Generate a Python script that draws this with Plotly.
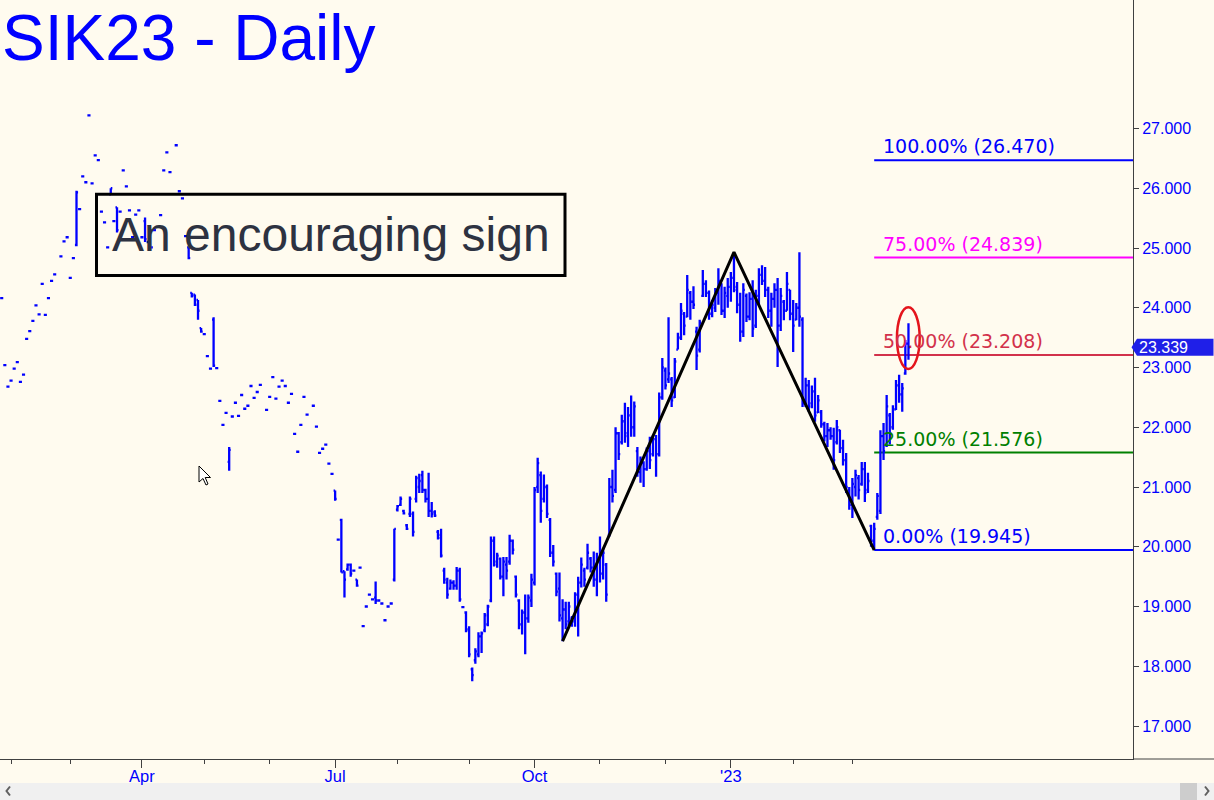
import plotly.graph_objects as go
import pandas as pd

# ------------------------------------------------------------------ data
first_session = "2022-01-27"
exchange_holidays = ["2022-02-21", "2022-04-15", "2022-05-30", "2022-06-20",
                     "2022-07-04", "2022-09-05", "2022-11-24", "2022-12-26",
                     "2023-01-02", "2023-01-16", "2023-02-20"]

bar_open = [
    24.16, 23.04, 22.68, 22.78, 22.98, 23.09, 22.76, 22.88, 23.48, 23.61,
    23.78, 24.04, 23.89, 24.40, 23.88, 24.16, 24.45, 24.56, None, 24.86,
    25.11, 25.18, 24.50, 24.83, 25.05, 25.65, 26.20, 26.10, 27.22, 26.08,
    26.55, 26.47, 25.61, 25.43, 25.01, 25.90, 25.45, 25.68, 25.61, 26.30,
    26.03, 25.63, 25.18, 25.56, 25.63, 25.18, 25.45, 25.10, 25.01, 25.30,
    None, 25.55, 26.30, 26.60, 26.27, None, 26.72, 25.95, 25.83, 25.20,
    25.01, 24.25, 24.22, 24.13, 23.66, 23.56, 23.19, 22.98, 23.80, 22.99,
    22.44, 22.04, 22.24, 21.42, 22.18, 22.41, 22.19, 22.54, 22.31, 22.36,
    22.69, 22.49, 22.59, 22.71, None, 22.29, 22.51, 22.84, 22.48, 22.68,
    22.78, 22.69, 22.41, 22.56, 21.89, 21.59, 22.04, 22.51, 22.21, None,
    22.36, 22.01, 21.57, 21.64, 21.71, 21.39, 21.22, 20.94, 20.12, 20.45,
    19.59, 19.62, 19.70, 19.60, 19.45, 19.65, 18.67, 19.00, 19.20, 19.12,
    19.15, 19.10, 19.05, 18.77, 19.00, 19.05, 19.45, 20.62, 20.70, 20.60,
    20.36, 20.55, 20.55, 20.80, 21.00, 21.20, 20.95, 20.80, 20.60, 20.58,
    20.25, 20.20, 19.60, 19.40, 19.30, 19.40, 19.35, 19.60, 18.99, 18.90,
    18.60, 17.95, 18.10, 18.20, 18.50, 18.60, 18.70, 19.10, 20.10, 19.70,
    19.80, 19.50, 19.70, 19.75, 20.10, 19.50, 19.10, 18.70, 18.90, 18.80,
    19.10, 19.40, 21.00, 21.20, 20.80, 21.00, 20.45, 19.90, 19.55, 19.30,
    18.80, 18.95, 18.75, 18.80, 18.75, 19.20, 19.40, 19.60, 19.65, 19.80,
    19.65, 19.45, 19.80, 19.55, 19.70, 20.20, 21.00, 20.95, 21.90, 21.75,
    22.10, 21.90, 22.20, 22.00, 21.60, 21.25, 21.40, 21.30, 21.60, 21.55,
    21.80, 21.55, 22.50, 22.95, 22.80, 22.80, 22.50, 23.30, 23.50, 23.90,
    23.85, 24.25, 24.10, 23.60, 23.30, 24.20, 24.40, 24.25, 23.90, 24.00,
    24.25, 24.40, 23.95, 24.20, 24.35, 24.50, 24.30, 24.05, 23.60, 24.20,
    23.85, 24.15, 23.70, 24.20, 24.55, 24.45, 24.30, 23.95, 24.15, 24.30,
    23.70, 24.10, 23.95, 24.30, 23.90, 23.80, 24.00, 23.80, 22.40, 22.70,
    22.40, 22.60, 22.25, 22.25, 22.05, 21.85, 21.95, 21.85, 21.75, 21.95,
    21.65, 21.45, 20.95, 20.70, 21.00, 21.15, 21.05, 21.30, 20.95, 20.35,
    20.10, 20.50, 20.60, 21.85, 21.70, 22.20, 22.00, 22.30, 22.70, 22.55,
    22.90, 23.40,
]

bar_high = [
    24.16, 23.04, 22.68, 22.78, 22.98, 23.09, 22.76, 22.88, 23.48, 23.61,
    23.78, 24.04, 23.89, 24.40, 23.88, 24.16, 24.45, 24.56, None, 24.86,
    25.11, 25.18, 24.50, 24.83, 25.96, 25.65, 26.20, 26.10, 27.22, 26.08,
    26.55, 26.47, 25.61, 25.43, 25.01, 26.00, 25.45, 25.68, 25.61, 26.30,
    26.03, 25.63, 25.18, 25.56, 25.63, 25.18, 25.51, 25.10, 25.01, 25.30,
    None, 25.55, 26.30, 26.60, 26.27, None, 26.72, 25.95, 25.83, 25.20,
    25.01, 24.25, 24.22, 24.13, 23.66, 23.56, 23.19, 22.98, 23.84, 22.99,
    22.44, 22.04, 22.24, 21.67, 22.18, 22.41, 22.19, 22.54, 22.31, 22.36,
    22.69, 22.49, 22.59, 22.71, None, 22.29, 22.51, 22.84, 22.48, 22.68,
    22.78, 22.69, 22.41, 22.56, 21.89, 21.59, 22.04, 22.51, 22.21, None,
    22.36, 22.01, 21.57, 21.64, 21.71, 21.39, 21.22, 20.94, 20.12, 20.47,
    19.59, 19.72, 19.72, 19.60, 19.45, 19.65, 18.67, 19.00, 19.20, 19.12,
    19.42, 19.10, 19.05, 18.77, 19.00, 19.05, 20.30, 20.70, 20.84, 20.62,
    20.38, 20.84, 20.59, 21.19, 21.22, 21.27, 20.97, 21.24, 20.75, 20.61,
    20.28, 20.30, 19.65, 19.48, 19.45, 19.44, 19.66, 19.65, 18.99, 18.92,
    18.67, 17.98, 18.30, 18.57, 18.58, 18.89, 19.03, 20.17, 20.17, 19.90,
    19.82, 19.83, 19.83, 20.20, 20.12, 19.52, 19.12, 18.95, 19.20, 19.20,
    19.55, 21.00, 21.49, 21.26, 21.21, 21.04, 20.48, 20.03, 19.57, 19.57,
    19.12, 19.08, 19.08, 18.84, 19.24, 19.50, 19.82, 19.65, 20.05, 19.83,
    19.92, 19.90, 20.17, 19.98, 19.73, 21.15, 21.29, 22.00, 21.92, 22.21,
    22.41, 22.34, 22.53, 22.43, 21.67, 21.51, 21.43, 21.66, 21.84, 21.87,
    21.87, 22.58, 23.16, 23.00, 23.84, 22.84, 23.16, 23.58, 24.08, 23.93,
    24.55, 24.28, 24.36, 23.68, 23.80, 24.63, 24.46, 24.29, 24.13, 24.33,
    24.66, 24.41, 24.35, 24.50, 24.60, 24.93, 24.43, 24.25, 24.41, 24.24,
    24.26, 24.46, 24.30, 24.66, 24.71, 24.68, 24.35, 24.25, 24.41, 24.50,
    24.33, 24.13, 24.60, 24.30, 24.13, 24.08, 24.93, 23.84, 22.83, 22.79,
    22.70, 22.83, 22.54, 22.29, 22.09, 22.07, 22.00, 21.99, 22.12, 21.96,
    21.79, 21.57, 21.00, 21.15, 21.29, 21.20, 21.42, 21.42, 21.24, 20.37,
    20.40, 20.90, 21.95, 22.07, 22.54, 22.24, 22.37, 22.79, 22.88, 22.74,
    23.46, 23.74,
]

bar_low = [
    24.16, 23.04, 22.68, 22.78, 22.98, 23.09, 22.76, 22.88, 23.48, 23.61,
    23.78, 24.04, 23.89, 24.40, 23.88, 24.16, 24.45, 24.56, None, 24.86,
    25.11, 25.18, 24.50, 24.83, 25.03, 25.65, 26.20, 26.10, 27.22, 26.08,
    26.55, 26.47, 25.61, 25.43, 25.01, 25.90, 25.45, 25.26, 25.61, 26.30,
    26.03, 25.63, 25.18, 25.56, 25.63, 25.18, 25.10, 25.10, 25.01, 25.30,
    None, 25.55, 26.30, 26.60, 26.27, None, 26.72, 25.95, 25.83, 25.20,
    24.81, 24.17, 24.03, 23.80, 23.58, 23.56, 23.19, 22.98, 23.01, 22.99,
    22.44, 22.04, 22.24, 21.27, 22.18, 22.41, 22.19, 22.54, 22.31, 22.36,
    22.69, 22.49, 22.59, 22.71, None, 22.29, 22.51, 22.84, 22.48, 22.68,
    22.78, 22.69, 22.41, 22.56, 21.89, 21.59, 22.04, 22.51, 22.21, None,
    22.36, 22.01, 21.57, 21.64, 21.71, 21.39, 21.22, 20.77, 20.12, 19.57,
    19.15, 19.60, 19.50, 19.60, 19.33, 19.65, 18.67, 19.00, 19.20, 19.12,
    19.04, 19.10, 19.05, 18.77, 19.00, 19.05, 19.42, 20.59, 20.68, 20.54,
    20.28, 20.50, 20.17, 20.74, 20.90, 20.90, 20.74, 20.50, 20.49, 20.50,
    20.12, 19.82, 19.38, 19.13, 19.28, 19.28, 19.28, 19.08, 18.99, 18.57,
    18.15, 17.75, 18.04, 18.15, 18.22, 18.57, 18.67, 19.07, 19.67, 19.65,
    19.45, 19.17, 19.45, 19.70, 19.87, 19.15, 18.62, 18.53, 18.20, 18.73,
    18.99, 19.35, 20.90, 20.40, 20.74, 20.48, 19.83, 19.67, 19.17, 18.75,
    18.42, 18.62, 18.67, 18.66, 18.66, 18.50, 19.32, 19.33, 19.62, 19.57,
    19.33, 19.17, 19.40, 19.45, 19.08, 20.17, 20.74, 20.90, 21.45, 21.71,
    21.74, 21.67, 21.84, 21.84, 21.17, 21.07, 21.00, 21.27, 21.30, 21.51,
    21.17, 21.51, 22.46, 22.63, 22.74, 22.34, 22.49, 23.30, 23.46, 23.54,
    23.84, 23.80, 23.98, 22.96, 23.25, 24.18, 24.18, 23.80, 23.84, 23.93,
    24.05, 23.88, 23.83, 24.00, 24.10, 24.26, 23.91, 23.43, 23.51, 23.76,
    23.79, 23.51, 23.66, 24.04, 24.38, 24.18, 23.83, 23.68, 24.00, 23.01,
    23.61, 23.79, 23.95, 23.79, 23.26, 23.79, 23.68, 22.34, 22.34, 22.26,
    22.32, 22.09, 22.24, 21.99, 21.76, 21.67, 21.79, 21.29, 21.71, 21.57,
    21.36, 20.90, 20.62, 20.48, 20.84, 20.79, 21.02, 20.75, 20.90, 20.00,
    19.945, 20.45, 20.55, 21.45, 21.67, 21.71, 21.96, 22.29, 22.41, 22.26,
    22.88, 23.13,
]

bar_close = [
    24.16, 23.04, 22.68, 22.78, 22.98, 23.09, 22.76, 22.88, 23.48, 23.61,
    23.78, 24.04, 23.89, 24.40, 23.88, 24.16, 24.45, 24.56, None, 24.86,
    25.11, 25.18, 24.50, 24.83, 25.93, 25.65, 26.20, 26.10, 27.22, 26.08,
    26.55, 26.47, 25.61, 25.43, 25.01, 26.00, 25.45, 25.30, 25.61, 26.30,
    26.03, 25.63, 25.18, 25.56, 25.63, 25.18, 25.15, 25.10, 25.01, 25.30,
    None, 25.55, 26.30, 26.60, 26.27, None, 26.72, 25.95, 25.83, 25.20,
    24.83, 24.20, 24.05, 23.95, 23.60, 23.56, 23.19, 22.98, 23.03, 22.99,
    22.44, 22.04, 22.24, 21.62, 22.18, 22.41, 22.19, 22.54, 22.31, 22.36,
    22.69, 22.49, 22.59, 22.71, None, 22.29, 22.51, 22.84, 22.48, 22.68,
    22.78, 22.69, 22.41, 22.56, 21.89, 21.59, 22.04, 22.51, 22.21, None,
    22.36, 22.01, 21.57, 21.64, 21.71, 21.39, 21.22, 20.80, 20.12, 19.57,
    19.45, 19.70, 19.55, 19.60, 19.35, 19.65, 18.67, 19.00, 19.20, 19.12,
    19.10, 19.10, 19.05, 18.77, 19.00, 19.05, 20.30, 20.68, 20.80, 20.56,
    20.30, 20.80, 20.25, 21.15, 21.10, 20.95, 20.80, 20.60, 20.55, 20.52,
    20.15, 19.85, 19.45, 19.20, 19.40, 19.35, 19.60, 19.12, 18.99, 18.62,
    18.20, 17.85, 18.25, 18.50, 18.55, 18.85, 19.00, 20.10, 19.75, 19.85,
    19.50, 19.75, 19.60, 20.10, 19.95, 19.20, 18.70, 18.90, 18.80, 19.15,
    19.45, 20.95, 21.40, 20.60, 21.00, 20.55, 19.90, 19.75, 19.25, 18.85,
    18.95, 18.70, 19.00, 18.75, 19.20, 19.40, 19.70, 19.45, 19.90, 19.65,
    19.45, 19.80, 19.55, 19.90, 19.20, 21.00, 20.85, 21.90, 21.55, 22.10,
    21.85, 22.20, 22.00, 22.35, 21.25, 21.40, 21.30, 21.60, 21.45, 21.80,
    21.55, 22.50, 23.00, 22.70, 22.90, 22.45, 23.10, 23.50, 23.95, 23.70,
    24.30, 24.10, 24.05, 23.20, 23.75, 24.40, 24.25, 23.90, 24.05, 24.25,
    24.45, 23.95, 24.25, 24.35, 24.50, 24.35, 24.05, 23.60, 24.30, 23.85,
    24.15, 23.65, 24.20, 24.55, 24.45, 24.30, 23.95, 24.15, 24.30, 23.70,
    24.20, 23.95, 24.40, 23.90, 23.70, 24.00, 23.85, 22.40, 22.70, 22.35,
    22.60, 22.20, 22.45, 22.05, 21.85, 21.95, 21.85, 21.45, 22.00, 21.65,
    21.45, 21.00, 20.70, 21.05, 21.20, 20.95, 21.30, 20.90, 21.10, 20.10,
    20.30, 20.85, 21.85, 21.60, 22.35, 21.90, 22.30, 22.70, 22.55, 22.65,
    23.40, 23.339,
]

# zigzag pivots (bar number, which extreme)
zigzag_bars = [180, 235, 280]
zigzag_kind = ["low", "high", "low"]

# Fibonacci projection levels
fib_start_bar = 280
fib_levels = [26.470, 24.839, 23.208, 21.576, 19.945]
fib_labels = ["100.00% (26.470)", "75.00% (24.839)", "50.00% (23.208)",
              "25.00% (21.576)", "0.00% (19.945)"]
fib_colors = ["#0000FF", "#FF00FF", "#D2314B", "#008000", "#0000FF"]

y_ticks = [17, 18, 19, 20, 21, 22, 23, 24, 25, 26, 27]

title_text = "SIK23 - Daily"
note_text = "An encouraging sign"

# ------------------------------------------------------------------ derived
n = len(bar_close)
assert len(bar_open) == n and len(bar_high) == n and len(bar_low) == n
dates = pd.bdate_range(start=first_session, periods=n, freq="C",
                       holidays=exchange_holidays)
bar_index = list(range(n))

month_starts = [i for i in range(1, n) if dates[i].month != dates[i - 1].month]
major_ticks = [i for i in month_starts if dates[i].month in (1, 4, 7, 10)]
major_labels = [("'" + dates[i].strftime("%y")) if dates[i].month == 1
                else dates[i].strftime("%b") for i in major_ticks]

zig_y = [bar_low[b] if k == "low" else bar_high[b]
         for b, k in zip(zigzag_bars, zigzag_kind)]

# ------------------------------------------------------------------ geometry
FIG_W, FIG_H = 1214, 800
PLOT_W, PLOT_H = 1133, 759
PX_PER_BAR = 3.116
X0 = -0.55
X1 = X0 + PLOT_W / PX_PER_BAR
PX_PER_UNIT = 59.75
Y_TOP = 27 + 128.5 / PX_PER_UNIT
Y0 = Y_TOP - PLOT_H / PX_PER_UNIT

BG = "#FFFBEF"
AX = "#404040"
BLUE = "#0000FF"


def pxx(px):
    return px / PLOT_W


def pxy(py):
    return (PLOT_H - py) / PLOT_H


fig = go.Figure()

fig.add_trace(go.Ohlc(
    x=bar_index, open=bar_open, high=bar_high, low=bar_low, close=bar_close,
    increasing=dict(line=dict(color=BLUE, width=2.3)),
    decreasing=dict(line=dict(color=BLUE, width=2.3)),
    tickwidth=0.5, hoverinfo="skip", showlegend=False,
))

fig.add_trace(go.Scatter(
    x=zigzag_bars, y=zig_y, mode="lines",
    line=dict(color="#000000", width=3), hoverinfo="skip", showlegend=False,
))

shapes = []
annotations = []

for lvl, lab, col in zip(fib_levels, fib_labels, fib_colors):
    shapes.append(dict(type="line", xref="x", yref="y", x0=fib_start_bar, x1=X1,
                       y0=lvl, y1=lvl, line=dict(color=col, width=2), layer="below"))
    annotations.append(dict(x=fib_start_bar, y=lvl, xref="x", yref="y",
                            xanchor="left", yanchor="bottom", xshift=7, yshift=1,
                            text=lab, showarrow=False,
                            font=dict(family="DejaVu Sans", size=19, color=col)))

# red ellipse around the last bar
last = n - 1
shapes.append(dict(type="circle", xref="x", yref="y",
                   x0=last - 3.7, x1=last + 3.6, y0=22.975, y1=24.01,
                   line=dict(color="#E4141C", width=2.5)))

# last price tag on the right axis
last_close = bar_close[-1]
hh = 8.5 / PX_PER_UNIT
tip, left, right = pxx(1131.5), pxx(1137.0), pxx(1213.5)
shapes.append(dict(type="path", xref="paper", yref="y",
                   path=(f"M {tip} {last_close} L {left} {last_close + hh} "
                         f"L {right} {last_close + hh} L {right} {last_close - hh} "
                         f"L {left} {last_close - hh} Z"),
                   fillcolor="#1F1FE8", line=dict(width=0)))
annotations.append(dict(x=pxx(1137.0), y=last_close, xref="paper", yref="y",
                        xanchor="left", yanchor="middle", text=f"{last_close:.3f}",
                        showarrow=False,
                        font=dict(family="Liberation Sans, Arial", size=16, color="#FFFFFF")))

# title
annotations.append(dict(x=0, y=1, xref="paper", yref="paper", xanchor="left",
                        yanchor="top", text=title_text, showarrow=False,
                        font=dict(family="Liberation Sans, Arial", size=64, color=BLUE)))

# comment box
shapes.append(dict(type="rect", xref="paper", yref="paper",
                   x0=pxx(96.5), x1=pxx(565.0), y0=pxy(275.5), y1=pxy(194.3),
                   line=dict(color="#000000", width=3), fillcolor="rgba(0,0,0,0)"))
annotations.append(dict(x=pxx(330.5), y=pxy(205.5), xref="paper", yref="paper",
                        xanchor="center", yanchor="top", text=note_text, showarrow=False,
                        font=dict(family="Liberation Sans, Arial", size=48, color="#2D3241")))

# bottom axis line continues under the price scale
shapes.append(dict(type="line", xref="paper", yref="paper", x0=1, x1=FIG_W / PLOT_W,
                   y0=0, y1=0, line=dict(color=AX, width=1)))

# scrollbar strip
shapes.append(dict(type="rect", xref="paper", yref="paper", x0=0, x1=FIG_W / PLOT_W,
                   y0=pxy(800), y1=pxy(783), fillcolor="#F0F0F0", line=dict(width=0),
                   layer="below"))
shapes.append(dict(type="rect", xref="paper", yref="paper", x0=pxx(1180), x1=pxx(1197),
                   y0=pxy(800), y1=pxy(783), fillcolor="#CDCDCD", line=dict(width=0),
                   layer="below"))
shapes.append(dict(type="path", xref="paper", yref="paper",
                   path=f"M {pxx(10)} {pxy(786.5)} L {pxx(6.5)} {pxy(791)} L {pxx(10)} {pxy(795.5)}",
                   line=dict(color="#606060", width=2)))
shapes.append(dict(type="path", xref="paper", yref="paper",
                   path=f"M {pxx(1205)} {pxy(786.5)} L {pxx(1208.5)} {pxy(791)} L {pxx(1205)} {pxy(795.5)}",
                   line=dict(color="#606060", width=2)))

# mouse pointer
cursor = [(199, 466), (199, 482), (203, 478.5), (206, 485), (208, 484), (205.2, 477.5), (210.5, 477.5)]
cpath = "M " + " L ".join(f"{pxx(a)} {pxy(b)}" for a, b in cursor) + " Z"
shapes.append(dict(type="path", xref="paper", yref="paper", path=cpath,
                   fillcolor="#FFFFFF", line=dict(color="#000000", width=1)))

fig.update_layout(
    width=FIG_W, height=FIG_H, autosize=False,
    margin=dict(l=0, r=FIG_W - PLOT_W, t=0, b=FIG_H - PLOT_H, pad=0),
    paper_bgcolor=BG, plot_bgcolor=BG, showlegend=False,
    font=dict(family="Liberation Sans, Arial, sans-serif"),
    shapes=shapes, annotations=annotations,
    xaxis=dict(
        range=[X0, X1], showgrid=False, zeroline=False, fixedrange=True,
        showline=True, linecolor=AX, linewidth=1,
        tickmode="array", tickvals=major_ticks, ticktext=major_labels,
        ticks="outside", ticklen=8, tickwidth=1, tickcolor=AX,
        ticklabelstandoff=-6,
        tickfont=dict(family="Liberation Sans, Arial", size=16.5, color=BLUE),
        minor=dict(tickmode="array", tickvals=month_starts, ticks="outside",
                   ticklen=4, tickwidth=1, tickcolor=AX, showgrid=False),
        rangeslider=dict(visible=False),
    ),
    yaxis=dict(
        side="right", range=[Y0, Y_TOP], showgrid=False, zeroline=False, fixedrange=True,
        showline=True, linecolor=AX, linewidth=1,
        tickmode="array", tickvals=y_ticks, ticktext=[f"{v:.3f}" for v in y_ticks],
        ticks="outside", ticklen=5, tickwidth=1, tickcolor=AX,
        tickfont=dict(family="Liberation Sans, Arial", size=16, color=BLUE),
    ),
)

fig.write_html("out.html", config={"displayModeBar": False},
               post_script="document.body.style.margin='0';document.body.style.overflow='hidden';")
